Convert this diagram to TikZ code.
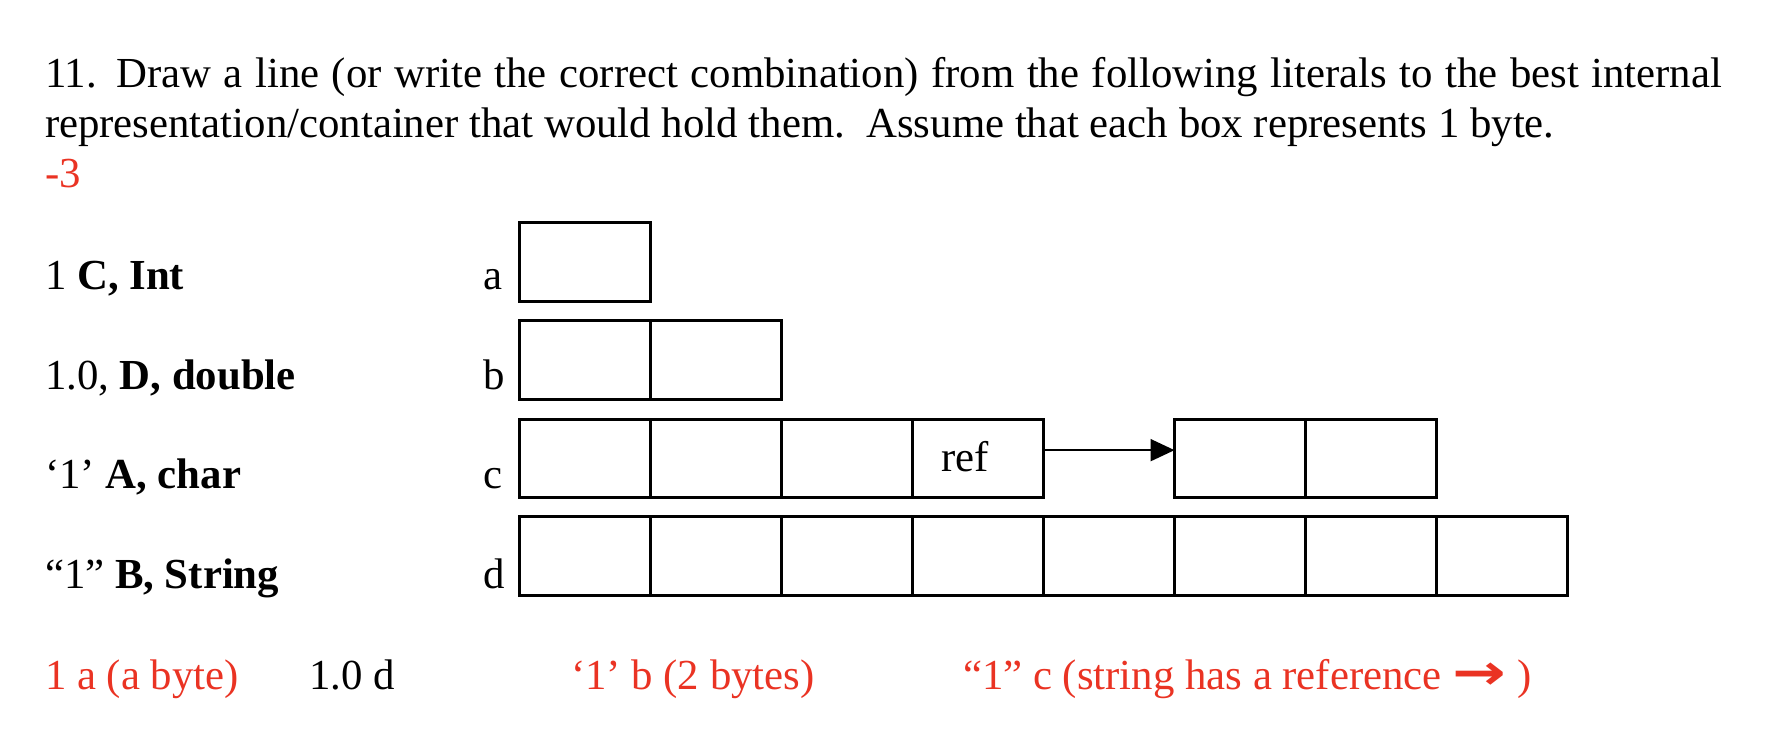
\documentclass[tikz,border=0pt]{standalone}
\usepackage{fontspec}
\setmainfont{Liberation Serif}
\newfontfamily\symfont{DejaVu Sans}
\usetikzlibrary{arrows.meta}
\definecolor{markred}{RGB}{234,51,35}
\begin{document}
\begin{tikzpicture}[x=0.5pt,y=-0.5pt,
  txt/.style={anchor=base west, inner sep=0, outer sep=0, font=\fontsize{21.4pt}{26pt}\selectfont},
  redtxt/.style={txt, text=markred},
  cell/.style={draw, line width=1.5pt, minimum width=65.55pt, minimum height=39.15pt, inner sep=0, outer sep=0, anchor=north west},
  refarrow/.style={line width=1pt, -{Triangle[length=12pt,width=11pt]}}
]
\useasboundingbox (0,0) rectangle (1780,738);
% title
\node[txt] (t1) at (45,88) {\makebox[838.5pt][s]{11. Draw a line (or write the correct combination) from the following literals to the best internal}};
\node[txt] (t2) at (45,137) {representation/container that would hold them.\ \ Assume that each box represents 1 byte.};
\node[redtxt] (grade) at (45,187) {-3};
% literals
\node[txt] (l1) at (45,289) {1 \textbf{C, Int}};
\node[txt] (l2) at (45,389) {1.0, \textbf{D, double}};
\node[txt] (l3) at (45,488) {‘1’ \textbf{A, char}};
\node[txt] (l4) at (45,588) {“1” \textbf{B, String}};
% row letters
\node[txt] (la) at (483,289) {a};
\node[txt] (lb) at (483,389) {b};
\node[txt] (lc) at (483,488) {c};
\node[txt] (ld) at (483,588) {d};
% boxes
\node[cell] (a0) at (519,222.7) {};
\foreach \i in {0,1} \node[cell] (b\i) at ({519+\i*131.1},320.7) {};
\foreach \i in {0,1,2,3,5,6} \node[cell] (c\i) at ({519+\i*131.1},419) {};
\foreach \i in {0,...,7} \node[cell] (d\i) at ({519+\i*131.1},516.7) {};
\node[txt, anchor=base] (reftxt) at (965,471) {ref};
\draw[refarrow] ([yshift=4pt]c3.east) -- ([yshift=4pt]c5.west);
% answers
\node[redtxt] (ans1) at (45,689) {1 a (a byte)};
\node[txt] (ans2) at (309,689) {1.0 d};
\node[redtxt] (ans3) at (571,689) {‘1’ b (2 bytes)};
\node[redtxt] (ans4) at (963,689) {“1” c (string has a reference \scalebox{1.5}[1.15]{\symfont\bfseries →}\ )};
\end{tikzpicture}
\end{document}
